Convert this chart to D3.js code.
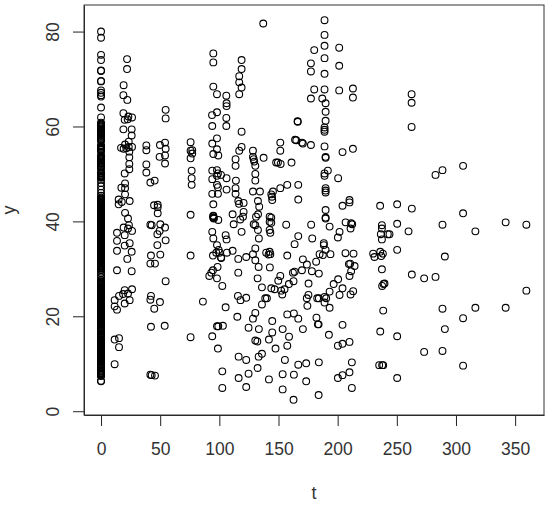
<!DOCTYPE html>
<html>
<head>
<meta charset="utf-8">
<script src="https://cdn.jsdelivr.net/npm/d3@7"></script>
<style>
body { margin: 0; background: #fff; }
text { font-family: "Liberation Sans", Arial, sans-serif; fill: #333; }
</style>
</head>
<body>
<div id="my_dataviz"></div>
<script>
// t = 0 strip
const y_zero = [80,78.7,75.1,74,71.8,71.7,69.6,69.5,67.6,67.1,66.6,66.3,64,61.9,
60.8,60.4,60,59.6,59.3,58.9,58.4,58,57.6,57.2,56.9,56,55.7,55.3,55,54.7,53.9,53.5,53.2,52.8,52.4,52.1,51.7,
51.4,51,50.3,49.9,49.5,49.2,48.8,48.1,47.4,46.7,46,45.4,45,44.6,44.2,43.9,43.6,43.2,42.9,42.6,42.3,42,41.7,41.4,41.1,40.8,
40.5,40.2,39.9,39.6,39.3,39,38.7,38.4,38.1,37.8,37.5,37.2,36.9,36.6,36.3,36,35.7,35.4,35.1,34.8,34.5,34.2,33.9,33.6,33.3,33,
32.7,32.4,32.1,31.8,31.5,31.2,30.9,30.6,30.3,30,29.7,29.2,28.7,28.2,27.7,27.4,27.1,26.8,26.5,26.2,25.9,25.6,25.3,25,24.7,24.4,
24.1,23.8,23.5,23.2,22.9,22.6,22.3,22,21.7,21.4,21.1,20.8,20.5,20.2,19.9,19.6,19.3,19,18.7,18.4,18.1,17.8,17.5,17.2,16.9,
16.3,16,15.7,15.4,15.1,14.8,14.5,14.2,13.9,13.6,13.3,13,12.7,12.4,12.1,11.8,11.5,11.2,10.9,10.6,10.3,10,9.7,9.4,9.1,
8.6,8.3,8,7.7,7.4,6.4,6.3];
const y_zero2 = [60.6,60.2,59.8,59.45,59.1,58.65,58.2,57.8,57.4,55.85,55.5,55.15,53.7,53.35,53,52.6,52.25,51.9,51.55,50.15,49.7,49.35,
44.8,44.4,44.05,43.75,43.4,43.05,42.75,42.45,42.15,41.85,41.55,41.25,40.95,40.65,40.35,40.05,39.75,39.45,39.15,38.85,38.55,38.25,37.95,37.65,37.35,37.05,36.75,36.45,36.15,35.85,35.55,35.25,34.95,34.65,34.35,34.05,33.75,33.45,33.15,
32.85,32.55,32.25,31.95,31.65,31.35,31.05,30.75,30.45,30.15,27.25,26.95,26.65,26.35,26.05,25.75,25.45,25.15,24.85,24.55,24.25,23.95,23.65,23.35,23.05,22.75,22.45,22.15,21.85,21.55,21.25,20.95,20.65,20.35,20.05,19.75,19.45,19.15,18.85,18.55,18.25,17.95,17.65,17.35,17.05,
16.15,15.85,15.55,15.25,14.95,14.65,14.35,14.05,13.75,13.45,13.15,12.85,12.55,12.25,11.95,11.65,11.35,11.05,10.75,10.45,10.15,9.85,9.55,9.25,8.45,8.15,7.85,7.55];

// around t = 10-30
const t_a = [22,22,19.1,18.9,22.2,18.9,26.2,20,23.1,22.5,18.9,25.9,25.9,23.4,20.3,16.9,19.1,26.2,23.4,21.4,23.9,23.9,23.9,23.9,20,20.3,17.2,20.3,20.3,14.9,17.5,24.2,14.9,20.3,22.8,
23.6,19.1,26.2,22.8,13.5,20,13.5,20,24.2,13.5,25.9,22.2,13.5,25.9,26.2,20,18.6,22.8,15.2,11.5,24.2,20,11.5,13.5,15.2,11.5,15.2,11.5];
const y_a = [74.2,72.1,68.7,66.6,65.6,62.8,61.9,61.4,62.1,61.5,59.4,59.4,58.1,56.8,56.2,55.5,55.3,55.7,55.7,55.4,54.7,53.5,52.1,51,50.1,48,47.1,47,45.7,44.6,44.1,44.3,43.6,41.8,40.6,
39.2,38.7,38,38.5,37.6,37.1,35.9,34.9,35.4,33.8,33.6,32.1,29.7,29.5,25.7,25.5,24.7,24.8,24.3,23.4,23.4,22.7,22.1,21.4,15.4,15.1,13.5,9.9];

// around t = 38-90
const t_b = [38.3,38.3,49.8,54.1,54.6,54.1,49.5,54.1,38.3,38.3,41.7,45.3,54.6,54.6,44.8,47.9,47.9,47.9,
75.7,75.7,77.1,75.7,77.1,76.6,76.6,76.6,75.7,75.7,75.7,
41.7,42.8,50.1,54.1,49.5,47.6,54.6,47.6,42.2,50.1,41.7,45.6,54.6,42.2,41.7,49.8,45,42.2,53.8,41.7,42.8,45.6,86.1];
const y_b = [56,55,56.1,56.6,55.3,53.9,53.6,52.2,52,50.3,48.2,48.6,63.5,61.7,43.4,43.5,43,41.7,
56.7,54.9,54.3,53.3,55,50.7,49.1,47.7,41.4,32.8,15.6,
39.3,39.2,39.4,38.7,38,37.3,36,35,32.8,33,31.1,31.1,27.4,24.3,23.5,23,21.6,17.8,18,7.7,7.6,7.5,23.1];

// around t = 90-107
const t_c = [94.9,94.9,94.9,98,105.9,106.1,106.1,93.8,98,105.9,105.9,94,98,94,98,94.9,99.1,94,98,98.8,101.4,98,106.1,94,98,98.8,106.1,98.8,94,94.9,94.9,94.9,95.4,
94.9,94.9,99.1,94,94.9,105.3,106.1,98,99.4,97.4,94.6,101.4,106.4,98.5,94.6,93.2,91.5,98,102.5,105.3,98,99.1,103,94,98.8,102.5,102.5];
const y_c = [75.4,73.5,68.4,66.8,66.5,64.9,64.3,62.4,63,61.8,60.1,60.1,57.5,56.4,55.2,54.2,53.9,50.7,50.8,50.1,49.8,49.6,49.1,48.9,47.7,47.2,46.7,45.8,45.8,43.6,41.2,40.9,40.6,
41.1,40.7,40.3,37.8,36.4,37.1,36.2,35,34,33.4,32.8,32.4,33.4,30.4,29.7,29.2,28.5,28,26.4,21.9,17.9,17.9,18,15.8,13.2,8.4,4.9];

// upper middle, t = 110-190
const t_d = [137.1,118.8,118.8,116.8,116.8,118.8,116.8,118.8,118.8,116.8,128.4,113.7,113.7,128.4,129,129.5,137.4,130.4,130.4,130.4,151.5,151.5,148,149.5,151.8,161,
166.1,166.3,164,165,169.8,170.6,177.4,
188.9,188.9,188.9,180.2,201.3,188.9,177.4,177.4,188.9,201.3,180.2,188.9,201.3,212.9,212.9,177.4,187,189.8,189.8,189.8,188.9,188.9,188.9,188.9,189.8,189.8,204.1,212.9,188.9,191.7,188.9,200.4,189.8,189.8,189.8,
166.7,166.7,157.4,151.5,145.3,143.9,144.7,144.5,128.4,134.3,114,113.7,113.7,116,120.5,116.6,132.6,133.7,120.5,111.2,120,132.7,131,142.5,143.9,189.8,189.8,204.1,210,210,235.9];
const y_d = [81.7,74,72.1,70.6,69.3,68.2,66.8,58.9,55.7,54.9,54.9,53.1,51.7,53.6,53.1,52.6,53.4,51.7,50,48.6,56.6,54.9,52.4,52.4,52.1,52.4,
61.1,61,57.2,57.1,56.6,56.4,56.1,
82.4,79.3,77,76.1,76.6,74.4,73.3,71.6,71.1,72.8,67.8,67.8,67.6,68,66.1,65.9,65.9,64.9,63.1,61.2,59.8,59.3,58.9,55.8,53.6,53.4,54.6,55.3,50.1,50.7,49.6,49.1,47,46.5,46.1,
47.7,44.6,47.7,47,46.3,45.7,44.5,45.2,46.3,46.3,48.6,47,45.8,44.3,43.9,43.7,44.3,43.1,42,41.5,41,41.5,41,41,40.8,42.4,40.8,43.3,44.5,44,43.3];

// lower middle, t = 100-215
const t_e = [117.7,112.1,118.8,129,130.4,132.6,133.4,142.5,143.9,142.5,143.1,156.5,166.7,163.6,177.6,178.5,189.8,193.2,201.6,200.2,206.7,211.4,212.3,210.9,
188.3,188.3,189.8,187.5,184.7,193.9,111.2,100.2,101.6,116,122.7,130.4,128.4,130.4,133.2,139.6,142.5,143.1,141.6,157.4,170.6,174,181.8,142.7,169.8,162.2,163.6,178.2,184.1,
116,132.3,151.5,149.8,162.7,158.8,175.4,136,143.9,146.7,152.3,155.1,153.2,115.7,117.9,122.7,138.8,140.2,136,173.9,175.3,174.4,182.7,184.1,188.9,190.3,193.2,188.9,193.2,196.6,200.4,204.1,201.6,210.9,213.1,210,211.4,209.5,210.6,214.3,206.6,213.4];
const y_e = [40.4,39.4,37.8,39.4,39.2,38.2,36.4,39.9,39.7,38.2,37.6,39.3,36.9,35.2,39.3,36.4,40.6,38.9,37.8,36.6,39.8,39.6,39.4,38.5,
35.4,35,34,32.9,33.1,33.1,33.8,33.4,32.3,32.1,32.5,34.3,33.1,31.8,30.4,33.4,33.6,33.1,33,32.8,32,30.9,31.5,30.3,29.7,29.2,29.4,29.5,29,
29.2,28,28.5,27.5,27.4,26.8,26.9,26.1,25.9,25.7,25.4,25.7,24.6,24.3,23.4,23.9,23.8,23.8,22.5,23.8,24.5,22.2,23.8,23.8,24.1,23.8,25.2,22.9,21.8,26.8,27.8,25.9,24.5,24.6,25.3,28.5,29.5,31,31.1,30.6,33.3,33.2];

// bottom, t = 100-215
const t_f = [130.4,128.4,115.2,124.7,133.4,144.7,144.7,153.5,157.4,163,166.7,170.6,182.1,183.3,183.9,204.1,192.6,158.9,141.9,130.4,132.1,147.5,157.4,200.2,204.1,210,
116.3,122.7,136,133.2,132.3,155.4,166.7,173.4,184.1,212,124.7,116.3,141.9,153.5,163,173.4,122.7,153.5,183.9,162.7,200.2,204.1,210,212];
const y_f = [20.7,19.5,19.9,17.6,17.3,19,16.6,17.3,20.4,20.6,19.5,17.3,19.7,18.3,18.3,18.2,16.1,15.7,15.1,14.9,14.7,13.2,13.8,13.8,14.2,14.6,
11.5,10.8,12.1,11.5,9.1,10.8,9.8,10.1,10.3,10.3,7.9,7,6.7,7.8,7.7,6.3,5.1,4.6,3.4,2.4,7,7.6,8.2,4.9];

// right side, t > 228
const t_g = [237.4,237.4,236.5,242.4,237.4,230,231.1,236,238.2,236.8,237.4,237.6,239.6,238.8,238.5,236,235.1,237.6,238.5,
262.5,262.5,262.5,282.7,288.6,306,250.3,262.7,306,342,359.5,288.6,316.4,259.9,250.3,243.8,250.3,290.6,262.7,273.1,282.7,359.5,288.6,316.4,342,306,290.6,250.3,273.1,288.6,306,250.3];
const y_g = [39.2,38.5,37.3,37.3,36.2,33.2,32.5,33.6,33.2,32.7,29.9,26.4,26.9,26.8,21.2,16.8,9.7,9.7,9.7,
66.8,65,59.9,49.8,50.8,51.7,43.6,42.7,41.7,39.8,39.3,39.3,37.9,37.9,39.5,37.3,34,32.6,28.8,28,28.3,25.4,21.6,21.8,21.8,19.6,17.3,15.8,12.5,12.7,9.6,7];

const x_ticks = [0,50,100,150,200,250,300,350];
const y_ticks = [0,20,40,60,80];

const margin = {top: 5, right: 6, bottom: 91, left: 84},
  width = 550 - margin.left - margin.right,
  height = 506 - margin.top - margin.bottom;

const y_strip = y_zero.concat(y_zero2);
const t_all = y_strip.map(() => 0).concat(t_a, t_b, t_c, t_d, t_e, t_f, t_g);
const y_all = y_strip.concat(y_a, y_b, y_c, y_d, y_e, y_f, y_g);
const points = t_all.map((d, i) => ({t: d, y: y_all[i]}));

const svg = d3.select("#my_dataviz")
  .append("svg")
  .attr("width", 550)
  .attr("height", 506)
  .append("g")
  .attr("transform", `translate(${margin.left}, ${margin.top})`);

const x = d3.scaleLinear().domain([-14.4, 374.4]).range([0, width]);
const y = d3.scaleLinear().domain([-0.8, 85.6]).range([height, 0]);

// axes, R style
const xAxis = svg.append("g")
  .attr("transform", `translate(0, ${height})`)
  .call(d3.axisBottom(x).tickValues(x_ticks).tickFormat(d3.format("d")).tickSize(11).tickSizeOuter(0));
const yAxis = svg.append("g")
  .call(d3.axisLeft(y).tickValues(y_ticks).tickFormat(d3.format("d")).tickSize(11).tickSizeOuter(0));

[xAxis, yAxis].forEach(a => {
  a.selectAll("line").attr("stroke", "#222");
  a.selectAll("path").attr("stroke", "#222");
  a.selectAll("text").style("font-size", "17.5px").attr("fill", "#333");
});

xAxis.selectAll(".tick text")
  .attr("y", 40)
  .attr("dy", 0);

yAxis.selectAll(".tick text")
  .attr("transform", "rotate(-90)")
  .attr("x", 0)
  .attr("y", -25)
  .attr("dy", 0)
  .style("text-anchor", "middle");

// box
svg.append("rect")
  .attr("width", width)
  .attr("height", height)
  .attr("fill", "none")
  .attr("stroke", "#333");

// points
svg.append("g")
  .selectAll("circle")
  .data(points)
  .enter()
  .append("circle")
    .attr("cx", d => x(d.t))
    .attr("cy", d => y(d.y))
    .attr("r", 3.4)
    .attr("fill", "none")
    .attr("stroke", "#000")
    .attr("stroke-width", 1.1);

// axis titles
svg.append("text")
  .attr("x", width / 2)
  .attr("y", 499 - margin.top)
  .attr("text-anchor", "middle")
  .style("font-size", "18px")
  .text("t");

svg.append("text")
  .attr("transform", `translate(${15 - margin.left}, ${height / 2}) rotate(-90)`)
  .attr("text-anchor", "middle")
  .style("font-size", "18px")
  .text("y");
</script>
</body>
</html>
